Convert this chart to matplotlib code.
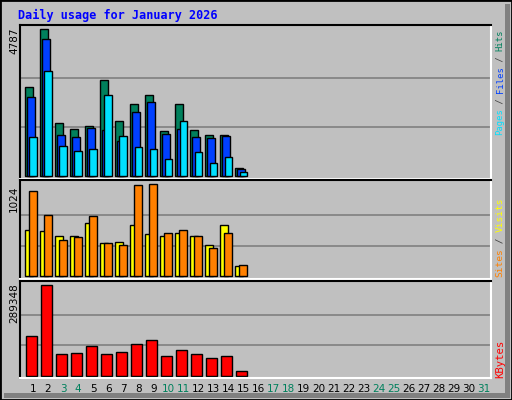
import matplotlib
matplotlib.use("Agg")
import matplotlib.pyplot as plt
import numpy as np

days = list(range(1, 32))
weekend_days = [3, 4, 10, 11, 17, 18, 24, 25, 31]
data_days = np.arange(1, 16)
hits = [2898, 4787, 1726, 1530, 1628, 3126, 1791, 2345, 2638, 1465, 2345, 1498, 1335, 1335, 260]
files = [2572, 4461, 1335, 1270, 1563, 1498, 1140, 2084, 2410, 1368, 1530, 1270, 1237, 1302, 228]
pages = [1270, 3419, 977, 814, 879, 2638, 1302, 944, 879, 554, 1791, 781, 423, 619, 130]
sites = [510, 499, 444, 444, 591, 366, 377, 566, 466, 444, 477, 444, 344, 566, 111]
visits = [943, 677, 399, 433, 665, 366, 344, 1009, 1024, 477, 510, 444, 311, 477, 122]
kbytes = [124610, 289348, 67585, 71809, 92930, 67585, 74977, 99266, 111938, 61249, 80257, 67585, 54913, 61249, 14784]
title = "Daily usage for January 2026"

W, H = 512, 400
fig = plt.figure(figsize=(W/100, H/100), dpi=100)
fig.patch.set_facecolor("#C0C0C0")
mono = "DejaVu Sans Mono"

# frame: shadow and outer border
fig.add_artist(plt.Rectangle((4/W, 2/H), (W-6)/W, 5/H, transform=fig.transFigure, fc="#808080", ec="none"))
fig.add_artist(plt.Rectangle(((W-7)/W, 2/H), 5/W, (H-6)/H, transform=fig.transFigure, fc="#808080", ec="none"))
fig.add_artist(plt.Rectangle((0, 0), 1, 1, transform=fig.transFigure, fill=False, ec="black", lw=2))

def ax_px(x0, y0, x1, y1):
    return fig.add_axes([x0/W, 1-y1/H, (x1-x0)/W, (y1-y0)/H])

xl = (0.135, 31.47)

def style(ax, ylim, vmax):
    ax.set_facecolor("#C0C0C0")
    ax.set_xlim(*xl)
    ax.set_ylim(*ylim)
    ax.set_xticks([]); ax.set_yticks([])
    for g in (vmax/3, 2*vmax/3):
        ax.axhline(g, color="#808080", lw=1.2, zorder=0)
    for s in ("left", "top"):
        ax.spines[s].set_color("black")
    for s in ("right", "bottom"):
        ax.spines[s].set_color("white")
    for s in ax.spines.values():
        s.set_linewidth(1.5)

kw = dict(edgecolor="black", linewidth=1.0, align="edge")

# top panel
ax1 = ax_px(20, 25, 491, 179)
style(ax1, (-98, 4917), 4787)
ax1.bar(data_days - 8/15, hits, 0.5, color="#00805C", **kw)
ax1.bar(data_days - 6/15, files, 0.5, color="#0040FF", **kw)
ax1.bar(data_days - 3.7/15, pages, 0.5, color="#00E0FF", **kw)

# middle panel
ax2 = ax_px(20, 180, 491, 279)
style(ax2, (-30, 1068), 1024)
ax2.bar(data_days - 8/15, sites, 0.5, color="#FFFF00", **kw)
ax2.bar(data_days - 4/15, visits, 0.52, color="#FF8000", **kw)

# bottom panel
ax3 = ax_px(20, 281, 491, 378)
style(ax3, (-7282, 300746), 289348)
ax3.bar(data_days - 7/15, kbytes, 0.7, color="#FF0000", **kw)

# day labels
for d in days:
    x = (33 + (d-1)*15.03)/W
    fig.text(x, 1-389/H, str(d), ha="center", va="center", fontsize=7.5,
             color="#00805C" if d in weekend_days else "black")

# title
fig.text(18/W, 1-15/H, title, fontsize=8.5, fontweight="bold", family=mono,
         color="#0000FF", va="center", ha="left")

# left max labels
for txt, ytop in (("4787", 27), ("1024", 186), ("289348", 283)):
    fig.text(14/W, 1-ytop/H, txt, rotation=90, fontsize=7.5, ha="center", va="top", color="black")

# right rotated labels
def rlabel(parts, ybottom, step, fs=7.2):
    idx = 0
    for t, c in parts:
        fig.text(500/W, 1-(ybottom - idx*step)/H, t, rotation=90, fontsize=fs, family=mono,
                 color=c, ha="center", va="bottom")
        idx += len(t)

rlabel([("Pages", "#00E0FF"), (" / ", "#404040"), ("Files", "#0040FF"),
        (" / ", "#404040"), ("Hits", "#00805C")], 135, 5.25, 6.4)
rlabel([("Sites", "#FF8000"), (" / ", "#404040"), ("Visits", "#FFFF00")], 277, 5.6, 6.8)
rlabel([("KBytes", "#FF0000")], 378, 6.3, 7.6)

fig.savefig("out.png", dpi=100, facecolor=fig.get_facecolor())
